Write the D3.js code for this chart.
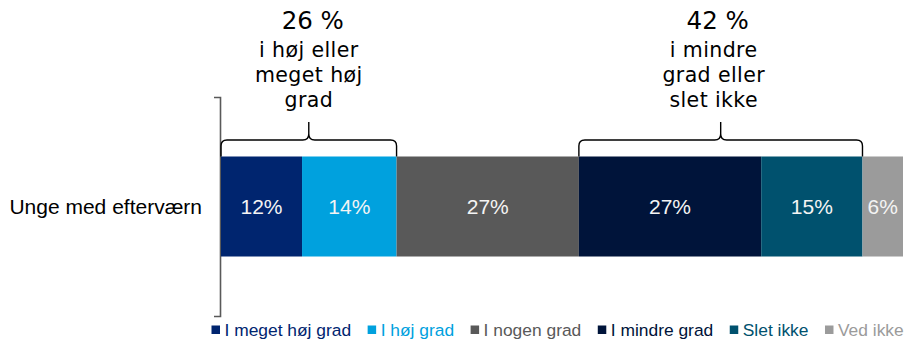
<!DOCTYPE html>
<html>
<head>
<meta charset="utf-8">
<script src="https://cdn.jsdelivr.net/npm/d3@7"></script>
<style>
  html, body { margin: 0; padding: 0; background: #fff; }
  svg { display: block; }
</style>
</head>
<body>
<svg id="chart" width="906" height="340"></svg>
<script>
// Survey answers for one group, stacked as shares of 100 %
const categories = ["Unge med efterværn"];
const seriesNames = ["I meget høj grad", "I høj grad", "I nogen grad", "I mindre grad", "Slet ikke", "Ved ikke"];
const seriesValues = [12, 14, 27, 27, 15, 6];
const seriesColors = ["#00256f", "#00a1de", "#595959", "#00143a", "#00516e", "#9b9b9b"];

// Brace groups: which series indices are summed, and the caption lines under the total
const groupMembers = [[0, 1], [3, 4]];
const groupCaptions = [["i høj eller", "meget høj", "grad"], ["i mindre", "grad eller", "slet ikke"]];

const svg = d3.select("#chart");

const total = d3.sum(seriesValues);
const x = d3.scaleLinear().domain([0, total]).range([221, 903]);
const y = d3.scaleBand().domain(categories).range([97, 316]).padding(0.373);

// cumulative offsets for the stack
const starts = [];
seriesValues.reduce((acc, v, i) => { starts[i] = acc; return acc + v; }, 0);

// Category axis: a bare spine with outer ticks on the left
const yAxis = d3.axisLeft(y).tickSizeInner(0).tickSizeOuter(6).tickPadding(18);
const gAxis = svg.append("g").attr("transform", "translate(220,0)").call(yAxis);
gAxis.select(".domain").attr("stroke", "#595959").attr("stroke-width", 1.6);
gAxis.selectAll(".tick text")
  .attr("font-family", "Liberation Sans, Arial, sans-serif")
  .attr("font-size", 21)
  .attr("fill", "#000")
  .attr("dy", "0.35em");

// Stacked bar segments
const cat = categories[0];
const segs = svg.append("g").selectAll("g.seg")
  .data(seriesValues.map((v, i) => ({ v, i, s: starts[i] })))
  .join("g").attr("class", "seg");

segs.append("rect")
  .attr("x", d => x(d.s))
  .attr("y", y(cat))
  .attr("width", d => x(d.s + d.v) - x(d.s))
  .attr("height", y.bandwidth())
  .attr("fill", d => seriesColors[d.i]);

segs.append("text")
  .attr("x", d => (x(d.s) + x(d.s + d.v)) / 2)
  .attr("y", y(cat) + y.bandwidth() / 2)
  .attr("dy", "0.35em")
  .attr("text-anchor", "middle")
  .attr("font-family", "Liberation Sans, Arial, sans-serif")
  .attr("font-size", 21)
  .attr("fill", "#f4f4f4")
  .text(d => d.v + "%");

// Curly braces over grouped segments with totals
const braceTop = 140, braceTip = y(cat), bracePeak = 122, r = 6;
function bracePath(x0, x1) {
  const xm = (x0 + x1) / 2;
  return `M${x0},${braceTip} L${x0},${braceTop + r} Q${x0},${braceTop} ${x0 + r},${braceTop}` +
    ` L${xm - r},${braceTop} Q${xm},${braceTop} ${xm},${braceTop - r} L${xm},${bracePeak}` +
    ` M${xm},${braceTop - r} Q${xm},${braceTop} ${xm + r},${braceTop}` +
    ` L${x1 - r},${braceTop} Q${x1},${braceTop} ${x1},${braceTop + r} L${x1},${braceTip}`;
}

const textShift = [[4, 0], [-3, -7]]; // small horizontal nudges for the title and caption lines
groupMembers.forEach((members, gi) => {
  const first = members[0], last = members[members.length - 1];
  const x0 = x(starts[first]), x1 = x(starts[last] + seriesValues[last]);
  const xm = (x0 + x1) / 2;
  const sum = d3.sum(members, m => seriesValues[m]);
  const g = svg.append("g");
  g.append("path")
    .attr("d", bracePath(x0, x1))
    .attr("fill", "none")
    .attr("stroke", "#000")
    .attr("stroke-width", 1.4);
  g.append("text")
    .attr("x", xm + textShift[gi][0])
    .attr("y", 29)
    .attr("text-anchor", "middle")
    .attr("font-family", "DejaVu Sans, Verdana, sans-serif")
    .attr("font-size", 24.5)
    .attr("fill", "#000")
    .text(sum + " %");
  groupCaptions[gi].forEach((line, li) => {
    g.append("text")
      .attr("x", xm + textShift[gi][1])
      .attr("y", 56.5 + li * 25)
      .attr("text-anchor", "middle")
      .attr("font-family", "DejaVu Sans, Verdana, sans-serif")
      .attr("font-size", 20.5)
      .attr("letter-spacing", 0.4)
      .attr("fill", "#000")
      .text(line);
  });
});

// Legend along the bottom
const legend = svg.append("g").attr("transform", "translate(211.5,336)");
let lx = 0;
seriesNames.forEach((name, i) => {
  const item = legend.append("g").attr("transform", `translate(${lx},0)`);
  item.append("rect")
    .attr("x", 0).attr("y", -10.5)
    .attr("width", 8.5).attr("height", 8.5)
    .attr("fill", seriesColors[i]);
  const t = item.append("text")
    .attr("x", 13)
    .attr("font-family", "Liberation Sans, Arial, sans-serif")
    .attr("font-size", 17.4)
    .attr("fill", seriesColors[i])
    .text(name);
  lx += 13 + t.node().getComputedTextLength() + 16.5;
});
</script>
</body>
</html>
